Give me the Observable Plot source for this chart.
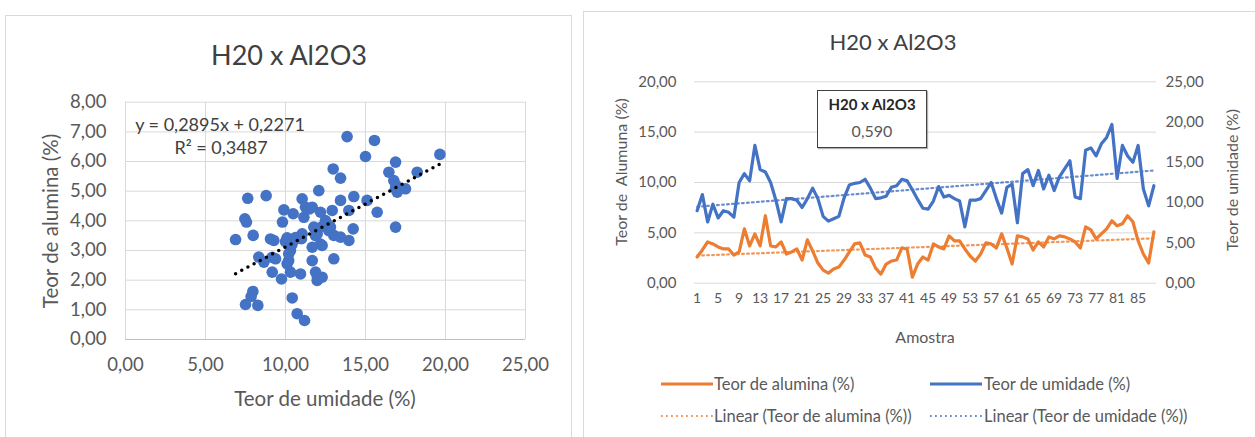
<!DOCTYPE html>
<html><head><meta charset="utf-8">
<script src="https://cdn.jsdelivr.net/npm/d3@7"></script>
<script src="https://cdn.jsdelivr.net/npm/@observablehq/plot@0.6"></script>
<style>
body{margin:0;background:#fff;font-family:Lato,"Open Sans",sans-serif;}
#page{position:relative;width:1255px;height:437px;overflow:hidden;background:#fff;}
.box{position:absolute;border:1px solid #d9d9d9;box-sizing:border-box;}
.t{position:absolute;white-space:pre;color:#595959;transform:translate(-50%,-50%);line-height:1;}
</style></head><body><div id="page"></div>
<script>
// ---------- DATA ----------
// Left panel: scatter (Teor de umidade vs Teor de alumina)
const scatterUmidade = [6.88,7.5,8.27,7.96,7.85,7.46,7.56,7.64,8.79,7.98,8.33,8.65,9.06,9.27,9.38,9.17,9.75,9.9,9.81,10.48,10.1,10.31,10.2,10.31,10.42,10.73,11.19,10.94,10.52,11.04,11.15,11.25,11.04,11.67,12.08,11.67,11.88,11.98,12.29,11.77,11.98,11.67,12.29,12.19,12.5,12.92,12.71,13.02,13.02,12.98,13.44,13.44,13.96,13.44,13.85,13.96,14.27,14.23,15.0,15.1,15.56,15.73,16.46,16.88,16.88,16.77,16.98,17.5,18.23,19.65,10.2,10.1,9.17,10.63,12.6,12.29,11.88,12.19,12.81,16.9,11.5,10.0,10.4,11.0,12.0,16.88];
const scatterAlumina = [3.37,1.18,1.15,1.62,1.45,4.07,3.96,4.76,4.85,3.51,2.78,2.61,3.39,3.34,2.72,2.27,2.04,4.37,3.96,4.24,3.43,3.0,2.66,2.27,1.40,0.87,0.64,2.21,3.34,4.74,4.12,4.46,3.56,4.46,5.02,2.66,2.27,1.99,2.1,3.79,3.56,3.11,3.17,4.29,4.01,4.35,3.67,3.51,2.72,5.75,5.44,4.69,3.34,3.45,6.84,4.35,4.82,3.73,6.17,4.69,6.71,4.29,5.64,5.98,3.79,5.36,4.97,5.08,5.64,6.24,2.89,2.55,2.77,3.44,3.9,3.81,3.5,3.22,3.79,5.2,4.4,3.3,3.2,3.4,2.1,5.1];
const trendSlope = 0.2895, trendIntercept = 0.2271, trendR2 = 0.3487;
const leftXTicks = [0,5,10,15,20,25];
const leftYTicks = [0,1,2,3,4,5,6,7,8];

// Right panel: series by sample (Amostra)
const alumina = [2.6,3.3,4.1,3.9,3.6,3.4,3.4,2.8,3.1,5.4,3.7,4.9,3.7,6.7,3.7,3.6,4.1,2.9,3.1,3.4,2.3,4.3,3.2,2.0,1.3,1.0,1.4,1.6,2.3,3.1,3.9,4.0,2.8,2.6,1.5,0.9,1.9,2.2,2.3,3.5,3.4,0.6,1.9,2.6,2.3,3.9,3.6,3.4,4.7,4.2,4.2,3.4,2.7,2.2,2.9,4.0,3.9,3.5,4.9,3.5,1.9,4.7,4.6,4.4,3.3,4.1,3.6,4.6,4.4,4.7,4.6,4.4,4.1,3.5,5.6,5.3,4.4,4.9,5.4,6.2,5.7,5.9,6.7,6.1,4.2,2.9,2.0,5.1];
const umidade = [9.0,11.0,7.6,9.8,8.1,9.0,8.8,8.2,12.5,13.6,12.7,17.1,14.1,13.8,12.5,10.3,7.6,10.5,10.5,10.3,9.4,10.5,11.8,10.5,8.3,7.7,8.0,8.3,10.6,12.2,12.4,12.5,12.9,11.8,10.5,10.6,10.8,11.9,12.1,12.9,12.7,11.6,10.4,9.3,9.2,10.2,12.0,10.7,10.9,10.5,10.2,7.0,10.3,10.3,10.5,11.5,12.5,10.5,8.7,11.9,12.3,7.5,13.6,14.1,12.1,14.0,11.7,13.4,11.5,13.2,14.2,15.2,10.7,10.5,16.5,16.8,15.8,17.3,18.1,19.7,13.0,17.1,15.8,15.0,17.1,11.7,9.6,12.1];
const xTickLabels = [1,5,9,13,17,21,25,29,33,37,41,45,49,53,57,61,65,69,73,77,81,85];
const rightLeftTicks = [0,5,10,15,20];
const rightRightTicks = [0,5,10,15,20,25];
const correlation = 0.590;

// ---------- HELPERS ----------
const loc = d3.formatLocale({decimal:",",thousands:".",grouping:[3],currency:["",""]});
const fmt2 = loc.format(".2f"), fmt3 = loc.format(".3f"), fmt4 = loc.format(".4f");
const ORANGE = "#ED7D31", BLUE = "#4472C4", GRID = "#d9d9d9", TXT = "#595959";
const page = document.getElementById("page");
function box(x,y,w,h){const d=document.createElement("div");d.className="box";Object.assign(d.style,{left:x+"px",top:y+"px",width:w+"px",height:h+"px"});page.appendChild(d);return d;}
function text(s,x,y,size,opts={}){const d=document.createElement("div");d.className="t";d.textContent=s;Object.assign(d.style,{left:x+"px",top:y+"px",fontSize:size+"px"},opts.style||{});if(opts.rot)d.style.transform="translate(-50%,-50%) rotate("+opts.rot+"deg)";page.appendChild(d);return d;}
function place(el,x,y){el.style.position="absolute";el.style.left=x+"px";el.style.top=y+"px";page.appendChild(el);}

// ---------- LEFT PANEL ----------
box(5,15,567,440);
const scatter = scatterUmidade.map((u,i)=>({u, a: scatterAlumina[i]}));
const [xmin,xmax] = d3.extent(scatterUmidade);
const trend = [xmin,xmax].map(x=>({x, y: trendSlope*x + trendIntercept}));
const left = Plot.plot({
  width:567, height:420,
  marginLeft:120, marginRight:47, marginTop:86.7, marginBottom:96,
  style:{fontFamily:"Lato", fontSize:"18.5px", color:TXT, background:"transparent", overflow:"visible"},
  x:{domain:[0,25]}, y:{domain:[0,8]},
  marks:[
    Plot.gridX(leftXTicks,{stroke:GRID, strokeOpacity:1}),
    Plot.gridY(leftYTicks,{stroke:GRID, strokeOpacity:1}),
    Plot.ruleY([0],{stroke:"#bfbfbf"}),
    Plot.axisX(leftXTicks,{tickSize:0, tickPadding:18, tickFormat:fmt2, label:null, fill:TXT}),
    Plot.axisY(leftYTicks,{tickSize:0, tickPadding:19, tickFormat:fmt2, label:null, fill:TXT}),
    Plot.dot(scatter,{x:"u", y:"a", r:5.8, fill:BLUE, stroke:null}),
    Plot.line(trend,{x:"x", y:"y", stroke:"#000", strokeWidth:3.5, strokeDasharray:"0 7", strokeLinecap:"round"})
  ]
});
place(left,5,15);
text("H20 x Al2O3",289,54,27,{style:{color:"#404040"}});
text("Teor de alumina (%)",50,221,20.5,{rot:-90});
text("Teor de umidade (%)",325,398,20.5);
text("y = "+fmt4(trendSlope)+"x + "+fmt4(trendIntercept),220,124,18,{style:{color:"#404040"}});
text("R² = "+fmt4(trendR2),221,147,18,{style:{color:"#404040"}});

// ---------- RIGHT PANEL ----------
box(583,11,680,440);
const k = rightLeftTicks[rightLeftTicks.length-1]/rightRightTicks[rightRightTicks.length-1];
const series = alumina.map((a,i)=>({i:i+1, a, u:umidade[i]*k}));
const right = Plot.plot({
  width:672, height:426,
  marginLeft:111, marginRight:99, marginTop:70.3, marginBottom:154.3,
  style:{fontFamily:"Lato", fontSize:"15px", color:TXT, background:"transparent", overflow:"visible"},
  x:{domain:[0.5, alumina.length+0.5]}, y:{domain:[0,20]},
  marks:[
    Plot.gridY(rightLeftTicks,{stroke:GRID, strokeOpacity:1}),
    Plot.axisY(rightLeftTicks,{anchor:"left", tickSize:0, tickPadding:18, tickFormat:fmt2, label:null, fill:TXT}),
    Plot.axisY(rightRightTicks.map(v=>v*k),{anchor:"right", tickSize:0, tickPadding:9, tickFormat:d=>fmt2(d/k), label:null, fill:TXT}),
    Plot.axisX(xTickLabels,{tickSize:0, tickPadding:10, tickFormat:d=>String(d), label:null, fill:TXT, fontSize:14}),
    Plot.linearRegressionY(series,{x:"i", y:"a", ci:0, stroke:ORANGE, strokeWidth:2.2, strokeDasharray:"1.8 3.2", strokeOpacity:0.8}),
    Plot.linearRegressionY(series,{x:"i", y:"u", ci:0, stroke:BLUE, strokeWidth:2.2, strokeDasharray:"1.8 3.2", strokeOpacity:0.8}),
    Plot.line(series,{x:"i", y:"a", stroke:ORANGE, strokeWidth:3.2, strokeLinejoin:"round"}),
    Plot.line(series,{x:"i", y:"u", stroke:BLUE, strokeWidth:3.2, strokeLinejoin:"round"})
  ]
});
place(right,583,11);
text("H20 x Al2O3",893,42,22,{style:{color:"#404040"}});
text("Teor de  Alumuna (%)",621,172,16,{rot:-90});
text("Teor de umidade (%)",1232,180,16,{rot:-90});
text("Amostra",925,337,16);

// correlation box
const cb = document.createElement("div");
Object.assign(cb.style,{position:"absolute",left:"817px",top:"90px",width:"110px",height:"58px",border:"1.5px solid #404040",boxSizing:"border-box",background:"#fff",boxShadow:"1px 1px 1px rgba(0,0,0,0.3)"});
page.appendChild(cb);
text("H20 x Al2O3",872,104,15,{style:{color:"#262626",fontWeight:"bold"}});
text(fmt3(correlation),872,131,16);

// legend
function sample(x,y,color,dotted){const s=document.createElementNS("http://www.w3.org/2000/svg","svg");s.setAttribute("width",52);s.setAttribute("height",6);
  const l=document.createElementNS("http://www.w3.org/2000/svg","line");l.setAttribute("x1",0);l.setAttribute("x2",52);l.setAttribute("y1",3);l.setAttribute("y2",3);l.setAttribute("stroke",color);l.setAttribute("stroke-width",dotted?2:3.2);if(dotted){l.setAttribute("stroke-dasharray","1.8 3.2");l.setAttribute("stroke-opacity",0.8);}s.appendChild(l);place(s,x,y-3);}
function ltext(s,x,y){const d=document.createElement("div");d.className="t";d.textContent=s;Object.assign(d.style,{left:x+"px",top:y+"px",fontSize:"16.5px",transform:"translate(0,-50%)"});page.appendChild(d);}
sample(661,384,ORANGE,false); ltext("Teor de alumina (%)",714,384);
sample(930,384,BLUE,false); ltext("Teor de umidade (%)",984,384);
sample(661,416,ORANGE,true); ltext("Linear (Teor de alumina (%))",714,416);
sample(930,416,BLUE,true); ltext("Linear (Teor de umidade (%))",984,416);
</script></body></html>
